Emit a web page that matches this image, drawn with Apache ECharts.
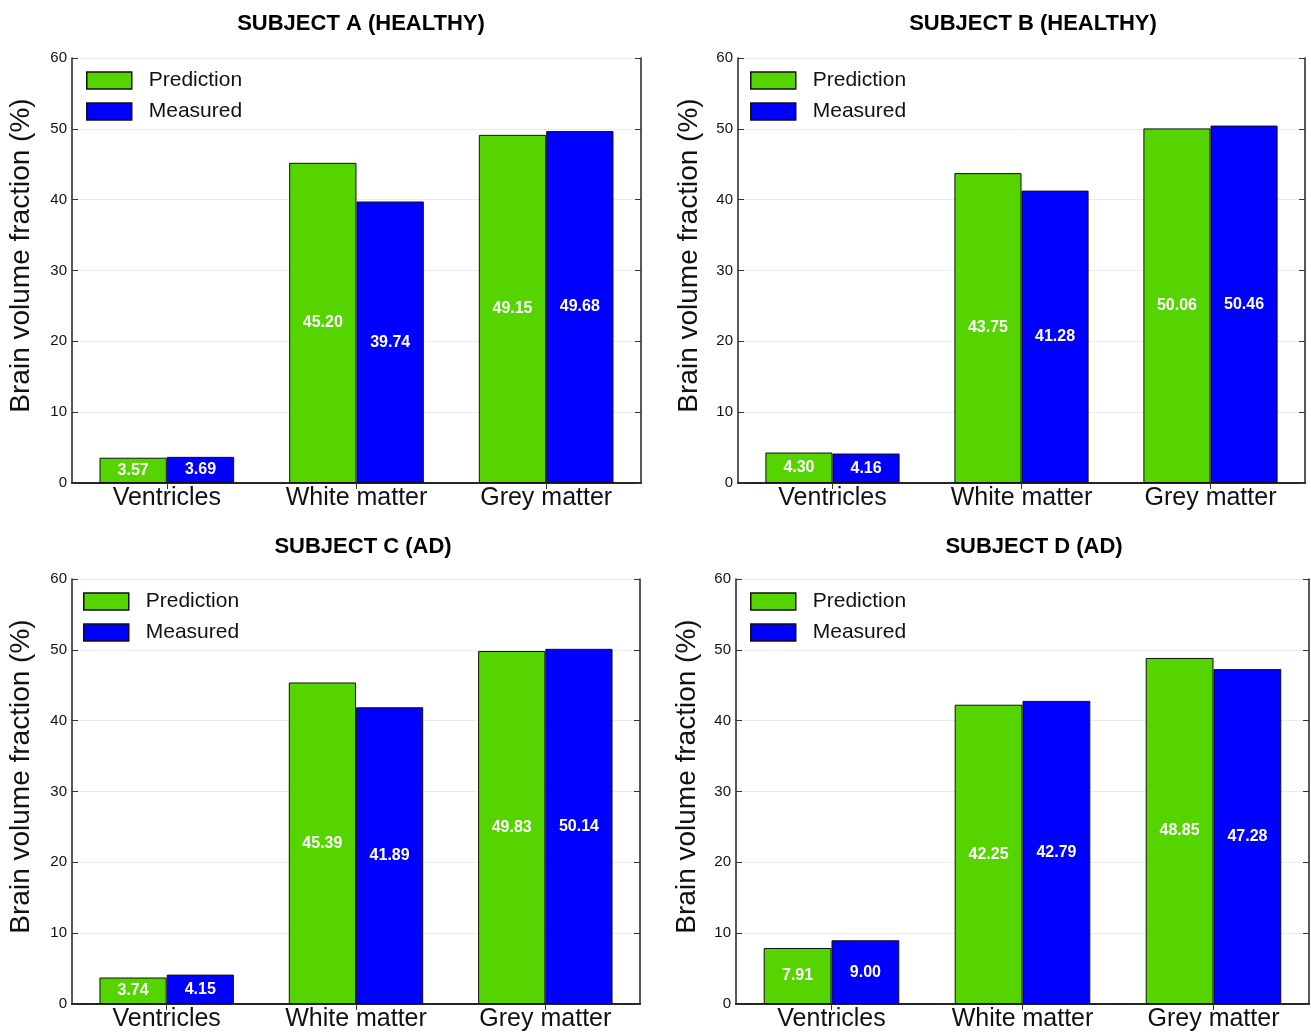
<!DOCTYPE html>
<html><head><meta charset="utf-8">
<script src="https://cdn.jsdelivr.net/npm/echarts@6/dist/echarts.min.js"></script>
<style>html,body{margin:0;padding:0;background:#fff}#c{width:1311px;height:1032px}</style>
</head><body><div id="c"></div>
<script>
const categories = ['Ventricles', 'White matter', 'Grey matter'];
const titles = ['SUBJECT A (HEALTHY)', 'SUBJECT B (HEALTHY)', 'SUBJECT C (AD)', 'SUBJECT D (AD)'];
const predA = [3.57, 45.20, 49.15];
const measA = [3.69, 39.74, 49.68];
const predB = [4.30, 43.75, 50.06];
const measB = [4.16, 41.28, 50.46];
const predC = [3.74, 45.39, 49.83];
const measC = [4.15, 41.89, 50.14];
const predD = [7.91, 42.25, 48.85];
const measD = [9.00, 42.79, 47.28];
const yTicks = [0, 10, 20, 30, 40, 50, 60];

const FONT = "'Liberation Sans', Arial, sans-serif";
const panels = [
  {pred: predA, meas: measA, grid: {left: 72, top: 58, width: 569, height: 425}, legend: {left: 86, top: 70}, title: {x: 356, y: 8}},
  {pred: predB, meas: measB, grid: {left: 738, top: 58, width: 567, height: 425}, legend: {left: 750, top: 70}, title: {x: 1028, y: 8}},
  {pred: predC, meas: measC, grid: {left: 72, top: 579, width: 568, height: 427}, legend: {left: 83, top: 591}, title: {x: 358, y: 531}},
  {pred: predD, meas: measD, grid: {left: 736, top: 579, width: 573, height: 427}, legend: {left: 750, top: 591}, title: {x: 1029, y: 531}}
];

const option = {
  animation: false,
  backgroundColor: '#fff',
  textStyle: {fontFamily: FONT},
  title: [], legend: [], grid: [], xAxis: [], yAxis: [], series: []
};

const lineStyle = {color: '#222', width: 1.5};
const barLabel = {
  show: true, position: 'inside', color: '#fff', fontWeight: 'bold', fontSize: 16, fontFamily: FONT,
  formatter: p => p.value.toFixed(2)
};

panels.forEach((p, i) => {
  option.title.push({
    text: titles[i], left: p.title.x, top: p.title.y, textAlign: 'center',
    textStyle: {fontSize: 22, fontWeight: 'bold', color: '#000', fontFamily: FONT}
  });
  option.legend.push({
    orient: 'vertical', left: p.legend.left, top: p.legend.top, padding: 0,
    itemWidth: 45, itemHeight: 17, itemGap: 10, icon: 'rect',
    data: ['Prediction', 'Measured'],
    itemStyle: {borderWidth: 1.5, borderColor: '#111'},
    textStyle: {fontSize: 21, color: '#111', fontFamily: FONT, padding: [0, 0, 0, 12]}
  });
  option.grid.push(Object.assign({containLabel: false}, p.grid));
  option.xAxis.push({
    type: 'category', gridIndex: i, data: categories, position: 'bottom',
    axisLine: {lineStyle: {color: '#333', width: 2}},
    axisTick: {show: false},
    axisLabel: {fontSize: 25, color: '#111', margin: 3, fontFamily: FONT}
  });
  option.xAxis.push({
    type: 'category', gridIndex: i, data: categories, position: 'top',
    axisLine: {lineStyle: lineStyle},
    axisTick: {show: true, inside: true, length: 6, alignWithLabel: true, lineStyle: {color: '#333'}},
    axisLabel: {show: false}
  });
  option.yAxis.push({
    type: 'value', gridIndex: i, min: yTicks[0], max: yTicks[yTicks.length - 1], interval: 10,
    position: 'left',
    name: 'Brain volume fraction (%)', nameLocation: 'middle', nameGap: i % 2 === 0 ? 37 : 35,
    nameTextStyle: {fontSize: 28, color: '#111', fontFamily: FONT, padding: [0, 0, 0, 30]},
    axisLine: {show: true, lineStyle: lineStyle},
    axisTick: {show: true, inside: true, length: 6, lineStyle: {color: '#333'}},
    axisLabel: {fontSize: 15, color: '#111', margin: 5, fontFamily: FONT},
    splitLine: {show: true, lineStyle: {color: '#ebebeb', width: 1}}
  });
  option.yAxis.push({
    type: 'value', gridIndex: i, min: yTicks[0], max: yTicks[yTicks.length - 1], interval: 10,
    position: 'right',
    axisLine: {show: true, lineStyle: lineStyle},
    axisTick: {show: true, inside: true, length: 6, lineStyle: {color: '#333'}},
    axisLabel: {show: false},
    splitLine: {show: false}
  });
  option.series.push({
    name: 'Prediction', type: 'bar', xAxisIndex: i * 2, yAxisIndex: i * 2, data: p.pred,
    barGap: '0%', barCategoryGap: '29%',
    itemStyle: {color: '#55d400', borderColor: '#111', borderWidth: 1},
    label: barLabel
  });
  option.series.push({
    name: 'Measured', type: 'bar', xAxisIndex: i * 2, yAxisIndex: i * 2, data: p.meas,
    barGap: '0%', barCategoryGap: '29%',
    itemStyle: {color: '#0000ff', borderColor: '#111', borderWidth: 1},
    label: barLabel
  });
});

const chart = echarts.init(document.getElementById('c'), null, {renderer: 'canvas'});
chart.setOption(option);
</script>
</body></html>
